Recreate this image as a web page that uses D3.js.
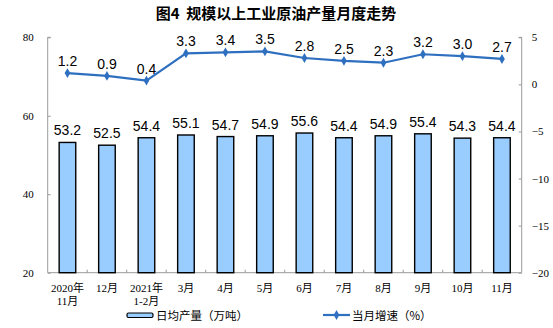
<!DOCTYPE html>
<html>
<head>
<meta charset="utf-8">
<script src="https://cdn.jsdelivr.net/npm/d3@7/dist/d3.min.js"></script>
<style>
  html, body { margin: 0; padding: 0; background: #fff; }
  svg { display: block; }
</style>
</head>
<body>
<svg id="chart" width="553" height="328"></svg>
<script>
// Monthly crude oil output of industrial enterprises above designated size
const categories = [
  ["2020年", "11月"], ["12月"], ["2021年", "1-2月"], ["3月"], ["4月"], ["5月"],
  ["6月"], ["7月"], ["8月"], ["9月"], ["10月"], ["11月"]
];
const dailyOutput = [53.2, 52.5, 54.4, 55.1, 54.7, 54.9, 55.6, 54.4, 54.9, 55.4, 54.3, 54.4];
const yoyGrowth = [1.2, 0.9, 0.4, 3.3, 3.4, 3.5, 2.8, 2.5, 2.3, 3.2, 3.0, 2.7];
const leftTicks = [20, 40, 60, 80];
const rightTicks = [5, 0, -5, -10, -15, -20];
const titleText = "图4  规模以上工业原油产量月度走势";
const barLegend = "日均产量（万吨）";
const lineLegend = "当月增速（%）";

const svg = d3.select("#chart");
const plotL = 47.7, plotR = 521.7, plotT = 37.3, plotB = 272.7;
const axisColor = "#9a9a9a";
const barFill = "#99ccff";
const lineColor = "#2e6fc0";
const tickFont = "'Liberation Serif', 'Noto Sans CJK SC', serif";
const valueFont = "'Liberation Sans', Arial, sans-serif";
const cjkFont = "'Noto Sans CJK SC', sans-serif";

const keys = categories.map((c, i) => i);
const x = d3.scaleBand().domain(keys).range([plotL, plotR])
  .paddingInner(0.58).paddingOuter(0.29);
const yL = d3.scaleLinear().domain([20, 80]).range([plotB, plotT]);
const yR = d3.scaleLinear().domain([-20, 5]).range([plotB, plotT]);
const cx = i => x(i) + x.bandwidth() / 2;

// title
svg.append("text")
  .attr("x", 276).attr("y", 19)
  .attr("text-anchor", "middle")
  .attr("font-family", cjkFont)
  .attr("font-weight", "bold")
  .attr("font-size", 15)
  .attr("fill", "#000")
  .style("white-space", "pre")
  .text(titleText);

// left axis
const gL = svg.append("g").attr("transform", `translate(${plotL},0)`)
  .call(d3.axisRight(yL).tickValues(leftTicks).tickSize(3).tickFormat(d3.format("d")));
gL.select(".domain").attr("stroke", axisColor).attr("d", `M3,${plotT}H0V${plotB}`);
gL.selectAll(".tick line").attr("stroke", axisColor);
gL.selectAll(".tick text")
  .attr("x", -14).attr("text-anchor", "end")
  .attr("font-family", tickFont).attr("font-size", 11).attr("fill", "#000");

// right axis
const gR = svg.append("g").attr("transform", `translate(${plotR},0)`)
  .call(d3.axisLeft(yR).tickValues(rightTicks).tickSize(3).tickFormat(d3.format("d")));
gR.select(".domain").attr("stroke", axisColor).attr("d", `M-3,${plotT}H0V${plotB}`);
gR.selectAll(".tick line").attr("stroke", axisColor);
gR.selectAll(".tick text")
  .attr("x", 10).attr("text-anchor", "start")
  .attr("font-family", tickFont).attr("font-size", 11).attr("fill", "#000");

// bottom axis with ticks at category boundaries
svg.append("line")
  .attr("x1", plotL).attr("x2", plotR).attr("y1", plotB).attr("y2", plotB)
  .attr("stroke", axisColor);
svg.append("g").selectAll("line")
  .data(keys.slice(1))
  .join("line")
  .attr("x1", i => x(i) - x.step() * x.paddingInner() / 2)
  .attr("x2", i => x(i) - x.step() * x.paddingInner() / 2)
  .attr("y1", plotB).attr("y2", plotB - 3)
  .attr("stroke", axisColor);

// category labels
const xl = svg.append("g");
categories.forEach((lines, i) => {
  lines.forEach((t, j) => {
    xl.append("text")
      .attr("x", cx(i)).attr("y", 292 + j * 13)
      .attr("text-anchor", "middle")
      .attr("font-family", tickFont).attr("font-size", 11).attr("fill", "#000")
      .text(t);
  });
});

// bars
svg.append("g").selectAll("rect")
  .data(dailyOutput)
  .join("rect")
  .attr("x", (d, i) => x(i))
  .attr("y", d => yL(d))
  .attr("width", x.bandwidth())
  .attr("height", d => plotB - yL(d))
  .attr("fill", barFill)
  .attr("stroke", "#000")
  .attr("stroke-width", 1.4);

svg.append("g").selectAll("text")
  .data(dailyOutput)
  .join("text")
  .attr("x", (d, i) => cx(i))
  .attr("y", d => yL(d) - 7)
  .attr("text-anchor", "middle")
  .attr("font-family", valueFont).attr("font-size", 14).attr("fill", "#000")
  .text(d => d.toFixed(1));

// growth line
const line = d3.line().x((d, i) => cx(i)).y(d => yR(d));
svg.append("path")
  .datum(yoyGrowth)
  .attr("d", line)
  .attr("fill", "none")
  .attr("stroke", lineColor)
  .attr("stroke-width", 2.2);

const diamond = d3.symbol().type(d3.symbolDiamond).size(28);
svg.append("g").selectAll("path")
  .data(yoyGrowth)
  .join("path")
  .attr("transform", (d, i) => `translate(${cx(i)},${yR(d)})`)
  .attr("d", diamond)
  .attr("fill", lineColor);

svg.append("g").selectAll("text")
  .data(yoyGrowth)
  .join("text")
  .attr("x", (d, i) => cx(i))
  .attr("y", d => yR(d) - 7)
  .attr("text-anchor", "middle")
  .attr("font-family", valueFont).attr("font-size", 14).attr("fill", "#000")
  .text(d => d.toFixed(1));

// legend
const lg = svg.append("g");
lg.append("rect")
  .attr("x", 127).attr("y", 313).attr("width", 26).attr("height", 4.5)
  .attr("rx", 1.5)
  .attr("fill", barFill).attr("stroke", "#000").attr("stroke-width", 1.2);
lg.append("text")
  .attr("x", 156).attr("y", 319.5)
  .attr("font-family", cjkFont).attr("font-size", 11.5).attr("fill", "#000")
  .text(barLegend);
lg.append("line")
  .attr("x1", 323).attr("x2", 350).attr("y1", 315).attr("y2", 315)
  .attr("stroke", lineColor).attr("stroke-width", 2.2);
lg.append("path")
  .attr("transform", "translate(336.5,315)")
  .attr("d", diamond)
  .attr("fill", lineColor);
lg.append("text")
  .attr("x", 352).attr("y", 319.5)
  .attr("font-family", cjkFont).attr("font-size", 11.5).attr("fill", "#000")
  .text(lineLegend);
</script>
</body>
</html>
